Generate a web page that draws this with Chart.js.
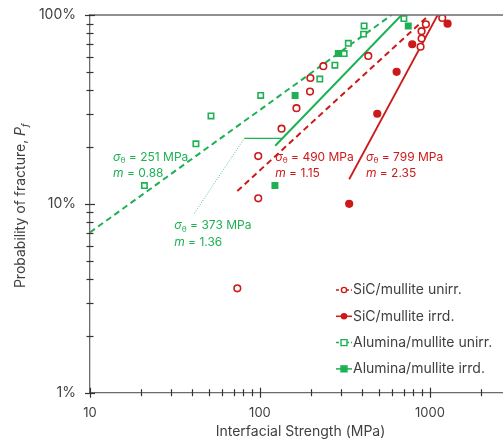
<!DOCTYPE html>
<html>
<head>
<meta charset="utf-8">
<script src="https://cdn.jsdelivr.net/npm/chart.js@4.4.1/dist/chart.umd.min.js"></script>
<style>
html, body { margin: 0; padding: 0; background: #fff; overflow: hidden; }
#wrap { width: 520px; height: 442px; }
</style>
</head>
<body>
<div id="wrap"><canvas id="weibull" width="520" height="442"></canvas></div>
<script>
// Interfacial strength (MPa) vs. cumulative probability of fracture (%)
var sicUnirrStrength = [73.6, 97.7, 97.7, 134, 164, 197, 198, 236, 434, 881, 893, 893, 947, 1182];
var sicUnirrProb = [3.57, 10.7, 17.9, 25.0, 32.1, 39.3, 46.4, 53.6, 60.7, 67.9, 75.0, 82.1, 89.3, 96.4];

var sicIrrdStrength = [335, 490, 637, 787, 1270];
var sicIrrdProb = [10, 30, 50, 70, 90];

var aluUnirrStrength = [20.9, 42, 51.5, 101, 225, 276, 313, 331, 407, 410, 703];
var aluUnirrProb = [12.5, 20.8, 29.2, 37.5, 45.8, 54.2, 62.5, 70.8, 79.2, 87.5, 95.8];

var aluIrrdStrength = [122.5, 161, 289, 746];
var aluIrrdProb = [12.5, 37.5, 62.5, 87.5];

// Weibull fit lines (end points)
var aluUnirrFitX = [10, 595];
var aluUnirrFitY = [7.06, 100];
var aluIrrdFitX = [123, 681];
var aluIrrdFitY = [20.3, 100];
var sicUnirrFitX = [73.6, 990];
var sicUnirrFitY = [11.7, 100];
var sicIrrdFitX = [335, 1110];
var sicIrrdFitY = [13.5, 100];

// leader from the 373 MPa note to its fit line
var leaderDotX = [41.1, 80.8];
var leaderDotY = [8.91, 22.2];
var leaderX = [80.8, 134];
var leaderY = [22.2, 22.2];

// fit parameters and where their notes sit
var fitSigma = [251, 373, 490, 799];
var fitModulus = ['0.88', '1.36', '1.15', '2.35'];
var noteStrength = [13.66, 31.3, 123, 420];
var noteProb = [17.7, 7.66, 17.7, 17.7];

var xTickValues = [10, 20, 30, 40, 50, 60, 70, 80, 90, 100, 200, 300, 400, 500, 600, 700, 800, 900, 1000, 2000, 3000];
var yTickValues = [1, 2, 3, 4, 5, 6, 7, 8, 9, 10, 20, 30, 40, 50, 60, 70, 80, 90, 100];

var RED = '#cc1a1a';
var GREEN = '#1db154';
var AXIS = '#6b6b6b';
var TEXT = '#404040';
var FONT = 'Inter';

function pts(xs, ys) {
    var out = [];
    for (var i = 0; i < xs.length; i++) {
        out.push({x: xs[i], y: ys[i]});
    }
    return out;
}

function isDecade(v) {
    var l = Math.log10(v);
    return Math.abs(l - Math.round(l)) < 1e-9;
}

function markerSet(label, xs, ys, color, shape, filled) {
    return {
        label: label,
        data: pts(xs, ys),
        showLine: false,
        pointStyle: shape,
        pointRadius: shape === 'rect' ? 3.8 : 3.3,
        pointBorderWidth: 1.6,
        pointBorderColor: color,
        pointBackgroundColor: filled ? color : '#ffffff',
        borderColor: color,
        backgroundColor: filled ? color : '#ffffff',
        inLegend: true,
        order: 1
    };
}

function fitSet(xs, ys, color, dash, width) {
    return {
        data: pts(xs, ys),
        showLine: true,
        pointRadius: 0,
        borderColor: color,
        borderWidth: width,
        borderDash: dash,
        fill: false,
        order: 2
    };
}

// axis ticks crossing the axis lines, top frame line, y title, fit notes and legend
var decorPlugin = {
    id: 'decor',
    afterDraw: function(chart) {
        var ctx = chart.ctx;
        var area = chart.chartArea;
        var xs = chart.scales.x;
        var ys = chart.scales.y;
        ctx.save();

        // frame line along 100 %
        ctx.strokeStyle = AXIS;
        ctx.lineWidth = 1.3;
        ctx.beginPath();
        ctx.moveTo(area.left, area.top);
        ctx.lineTo(chart.width, area.top);
        ctx.stroke();

        // crossing tick marks
        ctx.lineWidth = 1.2;
        ctx.strokeStyle = '#333333';
        xTickValues.forEach(function(v) {
            var px = Math.round(xs.getPixelForValue(v)) + 0.5;
            var h = isDecade(v) ? 5 : 3.5;
            ctx.beginPath();
            ctx.moveTo(px, area.bottom - h);
            ctx.lineTo(px, area.bottom + h);
            ctx.stroke();
        });
        yTickValues.forEach(function(v) {
            var py = Math.round(ys.getPixelForValue(v)) + 0.5;
            var w = isDecade(v) ? 5 : 3.5;
            ctx.beginPath();
            ctx.moveTo(area.left - w, py);
            ctx.lineTo(area.left + w, py);
            ctx.stroke();
        });

        // y axis title with italic P_f
        ctx.translate(21, (area.top + area.bottom) / 2 + 2);
        ctx.rotate(-Math.PI / 2);
        ctx.fillStyle = TEXT;
        ctx.textBaseline = 'middle';
        var part1 = 'Probability of fracture, ';
        ctx.font = '14px ' + FONT;
        var w1 = ctx.measureText(part1).width;
        ctx.font = 'italic 14px ' + FONT;
        var w2 = ctx.measureText('P').width;
        ctx.font = 'italic 9px ' + FONT;
        var w3 = ctx.measureText('f').width;
        var sx = -(w1 + w2 + w3) / 2;
        ctx.font = '14px ' + FONT;
        ctx.fillText(part1, sx, 0);
        ctx.font = 'italic 14px ' + FONT;
        ctx.fillText('P', sx + w1, 0);
        ctx.font = 'italic 9px ' + FONT;
        ctx.fillText('f', sx + w1 + w2, 4);
        ctx.setTransform(1, 0, 0, 1, 0, 0);

        // Weibull parameter notes
        for (var i = 0; i < fitSigma.length; i++) {
            var nx = xs.getPixelForValue(noteStrength[i]);
            var ny = ys.getPixelForValue(noteProb[i]);
            ctx.fillStyle = i < 2 ? GREEN : RED;
            ctx.textBaseline = 'middle';
            ctx.font = 'italic 12px ' + FONT;
            ctx.fillText('\u03c3', nx, ny);
            var sw = ctx.measureText('\u03c3').width;
            ctx.font = '8px ' + FONT;
            ctx.fillText('\u03b8', nx + sw, ny + 3.5);
            var tw = ctx.measureText('\u03b8').width;
            ctx.font = '12px ' + FONT;
            ctx.fillText(' = ' + fitSigma[i] + ' MPa', nx + sw + tw, ny);
            ctx.font = 'italic 12px ' + FONT;
            ctx.fillText('m', nx, ny + 16.5);
            var mw = ctx.measureText('m').width;
            ctx.font = '12px ' + FONT;
            ctx.fillText(' = ' + fitModulus[i], nx + mw, ny + 16.5);
        }

        // legend
        var lx = area.left + 246;
        var ly = area.top + 275;
        chart.data.datasets.forEach(function(ds) {
            if (!ds.inLegend) return;
            ctx.strokeStyle = ds.borderColor;
            ctx.lineWidth = 1.5;
            ctx.setLineDash(ds.pointBackgroundColor === '#ffffff' ? [3, 2] : []);
            ctx.beginPath();
            ctx.moveTo(lx, ly);
            ctx.lineTo(lx + 16, ly);
            ctx.stroke();
            ctx.setLineDash([]);
            ctx.fillStyle = ds.pointBackgroundColor;
            ctx.lineWidth = 1.4;
            ctx.beginPath();
            if (ds.pointStyle === 'rect') {
                ctx.rect(lx + 5, ly - 3, 6, 6);
            } else {
                ctx.arc(lx + 8, ly, 2.6, 0, Math.PI * 2);
            }
            ctx.fill();
            ctx.stroke();
            ctx.fillStyle = TEXT;
            ctx.font = '14px ' + FONT;
            ctx.textBaseline = 'middle';
            ctx.fillText(ds.label, lx + 17, ly);
            ly += 26.3;
        });
        ctx.restore();
    }
};

new Chart(document.getElementById('weibull'), {
    type: 'scatter',
    data: {
        datasets: [
            markerSet('SiC/mullite unirr.', sicUnirrStrength, sicUnirrProb, RED, 'circle', false),
            markerSet('SiC/mullite irrd.', sicIrrdStrength, sicIrrdProb, RED, 'circle', true),
            markerSet('Alumina/mullite unirr.', aluUnirrStrength, aluUnirrProb, GREEN, 'rect', false),
            markerSet('Alumina/mullite irrd.', aluIrrdStrength, aluIrrdProb, GREEN, 'rect', true),
            fitSet(aluUnirrFitX, aluUnirrFitY, GREEN, [6, 4], 2),
            fitSet(aluIrrdFitX, aluIrrdFitY, GREEN, [], 2),
            fitSet(sicUnirrFitX, sicUnirrFitY, RED, [6, 4], 2),
            fitSet(sicIrrdFitX, sicIrrdFitY, RED, [], 1.8),
            fitSet(leaderDotX, leaderDotY, '#5cc884', [1, 1.5], 1),
            fitSet(leaderX, leaderY, GREEN, [], 1.2)
        ]
    },
    options: {
        responsive: false,
        animation: false,
        devicePixelRatio: 1,
        layout: { padding: { top: 15, right: 9, left: 0, bottom: 0 } },
        plugins: {
            legend: { display: false },
            tooltip: { enabled: false }
        },
        scales: {
            x: {
                type: 'logarithmic',
                min: 10,
                max: 3000,
                afterBuildTicks: function(scale) {
                    scale.ticks = xTickValues.map(function(v) { return {value: v}; });
                },
                afterFit: function(scale) {
                    scale.height = 49.3;
                    scale.paddingLeft = 0;
                    scale.paddingRight = 0;
                },
                grid: { display: false, drawTicks: false },
                border: { display: true, color: AXIS, width: 1.3 },
                ticks: {
                    autoSkip: false,
                    maxRotation: 0,
                    padding: 13,
                    color: TEXT,
                    font: { family: FONT, size: 13 },
                    callback: function(v) { return isDecade(v) ? String(v) : ''; }
                },
                title: {
                    display: true,
                    text: 'Interfacial Strength (MPa)',
                    color: TEXT,
                    font: { family: FONT, size: 14 },
                    padding: { top: 0, bottom: 2 }
                }
            },
            y: {
                type: 'logarithmic',
                min: 1,
                max: 100,
                afterBuildTicks: function(scale) {
                    scale.ticks = yTickValues.map(function(v) { return {value: v}; });
                },
                afterFit: function(scale) {
                    scale.width = 90;
                    scale.paddingTop = 0;
                    scale.paddingBottom = 0;
                },
                grid: { display: false, drawTicks: false },
                border: { display: true, color: AXIS, width: 1.3 },
                ticks: {
                    autoSkip: false,
                    padding: 14,
                    color: TEXT,
                    font: { family: FONT, size: 14 },
                    callback: function(v) { return isDecade(v) ? v + '%' : ''; }
                }
            }
        }
    },
    plugins: [decorPlugin]
});
</script>
</body>
</html>
